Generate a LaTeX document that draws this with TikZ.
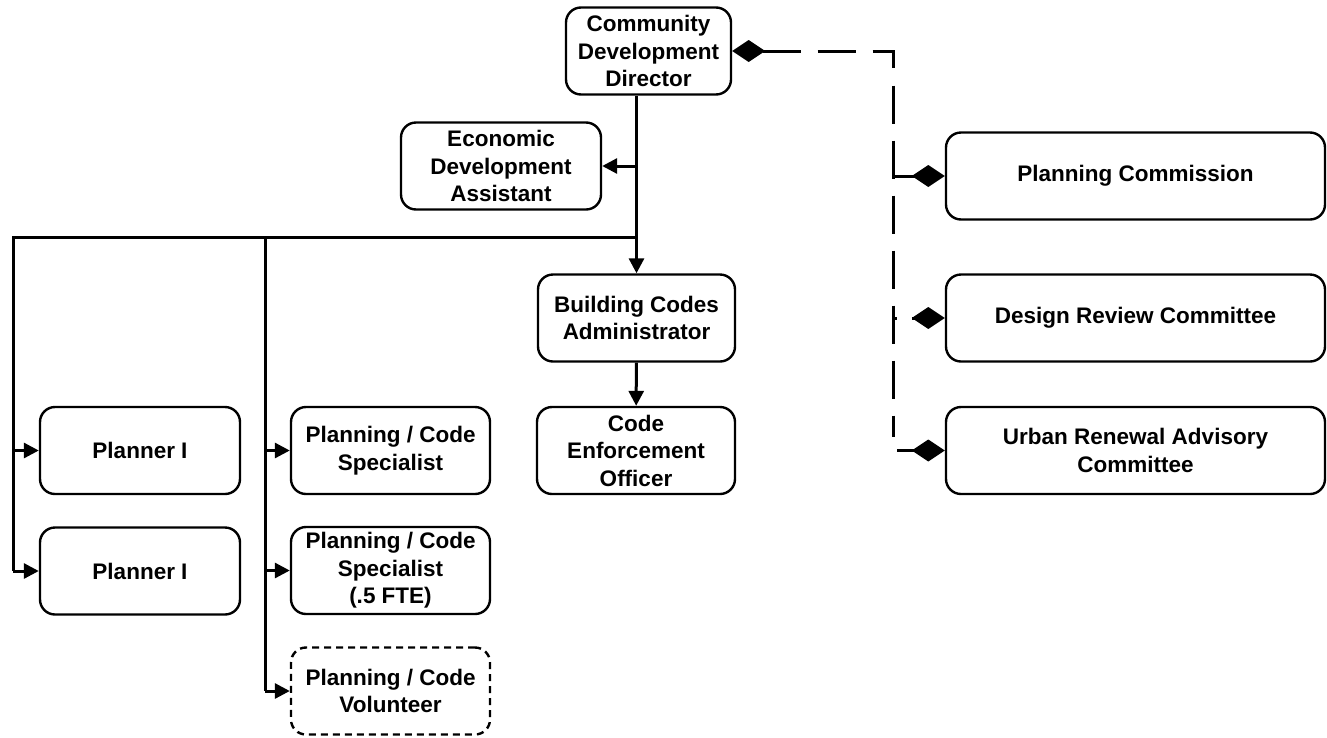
\documentclass[tikz,border=0pt]{standalone}
\usepackage{fontspec}
\setmainfont{Liberation Sans}
\usetikzlibrary{arrows.meta}

\tikzset{
  box/.style={draw, rounded corners=15pt, line width=2.4pt, align=center,
    font=\fontsize{22.5}{27.5}\selectfont\bfseries, inner sep=0pt,
    minimum width=200pt, minimum height=87pt},
  widebox/.style={box, minimum width=379pt},
  ghostbox/.style={box, dash pattern=on 7pt off 5pt},
  link/.style={line width=3pt},
  arr/.style={link, -{Triangle[length=15pt,width=15pt]}},
  dmd/.style={link, -{Diamond[length=33pt,width=22pt]}},
  dlink/.style={link, dash pattern=on 38pt off 17pt},
}

\begin{document}
\begin{tikzpicture}[x=1pt,y=-1pt]
            \useasboundingbox (0,0) rectangle (1327,737);
            % staff
            \node[box, minimum width=165pt] (cdd) at (648.5,51) {Community\\Development\\Director};
            \node[box] (eda) at (501,166) {Economic\\Development\\Assistant};
            \node[box, minimum width=197pt] (bca) at (636.5,318) {Building Codes\\Administrator};
            \node[box, minimum width=198pt] (ceo) at (636,450.5) {Code\\Enforcement\\Officer};
            \node[box] (pl1) at (140,450.5) {Planner I};
            \node[box] (pl2) at (140,571) {Planner I};
            \node[box, minimum width=199pt] (pcs) at (390.5,450.5) {Planning / Code\\Specialist};
            \node[box, minimum width=199pt] (pch) at (390.5,570.5) {Planning / Code\\Specialist\\(.5 FTE)};
            \node[ghostbox, minimum width=199pt] (pcv) at (390.5,691) {Planning / Code\\Volunteer};
            % boards
            \node[widebox] (pc) at (1135.5,176) {Planning Commission};
            \node[widebox] (drc) at (1135.5,318) {Design Review Committee};
            \node[widebox] (urac) at (1135.5,450.5) {Urban Renewal Advisory\\Committee};
            % bus points
            \coordinate (bus) at (636,237);
            \coordinate (lbus) at (13,237);
            \coordinate (mbus) at (265,237);
            \coordinate (dtop) at (893,51);
            \coordinate (dbot) at (893,437);
            % solid lines
            \draw[arr] (bca.north |- cdd.south) -- (bca.north);
            \draw[arr] (bca.north |- eda.east) -- (eda.east);
            \draw[arr] (bca) -- (ceo);
            \draw[link] (bus) -- (lbus) -- (lbus |- pl2.west);
            \draw[link] (mbus) -- (mbus |- pcv.west);
            \draw[arr] (lbus |- pl1.west) -- (pl1.west);
            \draw[arr] (lbus |- pl2.west) -- (pl2.west);
            \draw[arr] (mbus |- pcs.west) -- (pcs.west);
            \draw[arr] (mbus |- pch.west) -- (pch.west);
            \draw[arr] (mbus |- pcv.west) -- (pcv.west);
            % dashed lines
            \draw[dlink, {Diamond[length=33pt,width=22pt]}-] (cdd.east) -- (dtop) -- (dbot);
            \draw[dmd] (dtop |- pc.west) -- (pc.west);
            \draw[dmd, dash pattern=on 4pt off 15pt] (dtop |- drc.west) -- (drc.west);
            \draw[dmd] ([xshift=4pt]dbot |- urac.west) -- (urac.west);
        \end{tikzpicture}
\end{document}
